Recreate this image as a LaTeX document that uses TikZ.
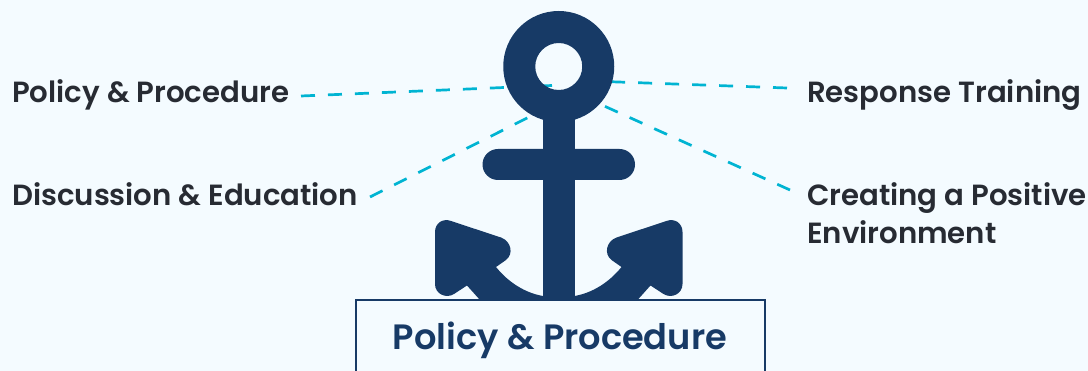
\documentclass[tikz,border=0pt]{standalone}
\usepackage{fontspec}
\setmainfont{Poppins SemiBold}
\newfontfamily\boxfont{Poppins SemiBold}
\definecolor{bgc}{HTML}{F4FBFF}
\definecolor{navy}{HTML}{173A66}
\definecolor{cyanline}{HTML}{00B4D2}
\definecolor{labelc}{HTML}{272B33}
\tikzset{
  lab/.style={inner sep=0pt,anchor=base west,text=labelc,font=\fontsize{29.2}{38}\selectfont,align=left},
  conn/.style={draw=cyanline,line width=2.7pt,dash pattern=on 14pt off 13pt},
  anchorfill/.style={fill=navy,draw=none},
}
\begin{document}
\begin{tikzpicture}[x=1pt,y=-1pt]
\useasboundingbox (0,0) rectangle (1088,371);
\fill[bgc] (0,0) rectangle (1088,371);
\clip (0,0) rectangle (1088,371);
\node[lab] (pp) at (12,103) {Policy \& Procedure};
\node[lab] (de) at (12,206) {Discussion \& Education};
\node[lab] (rt) at (807,103) {Response Training};
\node[lab] (cp) at (807,244) {Creating a Positive\\Environment};
\coordinate (ppend) at (301,96);
\coordinate (deend) at (370,197);
\coordinate (rtend) at (787,88);
\coordinate (cpend) at (790,190);
\coordinate (pphub) at (552,85.5);
\coordinate (dehub) at (545,109);
\coordinate (rthub) at (590,81);
\coordinate (cphub) at (582,96);
\draw[conn] (ppend) -- (pphub);
\draw[conn] (deend) -- (dehub);
\draw[conn] (rtend) -- (rthub);
\draw[conn] (cpend) -- (cphub);
% anchor
\fill[anchorfill,even odd rule] (558.75,66.5) circle[radius=55.5] (558.75,66.5) circle[radius=23.5];
\fill[anchorfill] (543,110) rectangle (574.5,300);
\fill[anchorfill,rounded corners=15.5pt] (482.5,149) rectangle (635,180);
\foreach \s/\o in {1/0,-1/1117.5}{
\begin{scope}[xshift=\o pt,x=\s pt]
\fill[anchorfill] (480,300) -- (467,285.5) -- (454,294) .. controls (446,299) and (435,294) .. (435,284) -- (435,232) .. controls (435,223) and (443,218) .. (451,221) -- (501,237.5) .. controls (511,241) and (514,254) .. (506,260) -- (496,267) .. controls (508,282) and (525,293) .. (543,296) -- (543,300) -- cycle;
\end{scope}}
\node[draw=navy,line width=2.5pt,fill=bgc,minimum width=409pt,minimum height=100pt,anchor=north west,inner sep=0pt,outer sep=0pt] (box) at (356,300) {};
\node[text=navy,inner sep=0pt,anchor=base,font=\boxfont\fontsize{35.2}{40}\selectfont] (boxlabel) at (560,350) {Policy \& Procedure};
\end{tikzpicture}
\end{document}
